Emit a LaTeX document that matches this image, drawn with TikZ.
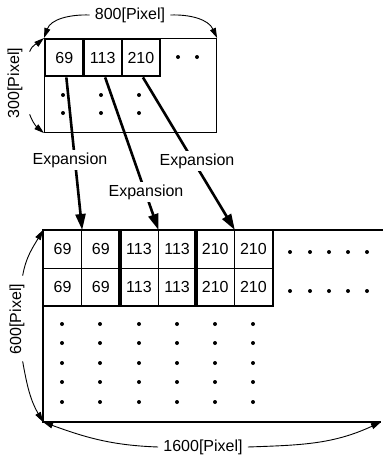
\documentclass[tikz,border=0pt]{standalone}
\usepackage{fontspec}
\setmainfont{Liberation Sans}
\usetikzlibrary{arrows.meta}
\begin{document}
\begin{tikzpicture}[x=1pt,y=-1pt,
  font=\fontsize{16}{18}\selectfont,
  frame/.style={draw, line width=1.1pt, inner sep=0pt, anchor=north west},
  cellS/.style={draw, line width=2.4pt, minimum width=38.3pt, minimum height=37pt, inner sep=0pt, anchor=north west},
  cellL/.style={draw, line width=1pt, minimum width=38.17pt, minimum height=37.5pt, inner sep=0pt, anchor=north west},
  pair/.style={line width=2.4pt},
  expand/.style={line width=2.6pt, -{Triangle[length=16pt,width=10pt]}},
  explabel/.style={fill=white, inner sep=3pt},
  dim/.style={line width=0.9pt, -{Triangle[length=10pt,width=6pt]}},
  dimtext/.style={inner sep=5pt},
  vdimtext/.style={inner sep=2pt, rotate=90},
  pt/.style={radius=2pt}
]
\fill[white] (0,0) rectangle (383,459);
\useasboundingbox (0,0) rectangle (383,459);

% small image (800 x 300)
\node[frame, minimum width=172pt, minimum height=94pt] (small) at (44,38) {};
\node[cellS] (s1) at (44,38) {69};
\node[cellS] (s2) at (82.3,38) {113};
\node[cellS] (s3) at (120.6,38) {210};
\foreach \x in {178,197} \fill (\x,57) circle[pt];
\foreach \x in {63,101,139} \foreach \y in {95,113} \fill (\x,\y) circle[pt];

% large image (1600 x 600), open on the right
\coordinate (bigNW) at (43,230);
\coordinate (bigNE) at (383,230);
\coordinate (bigSW) at (43,422);
\coordinate (bigSE) at (381,422);
\draw[line width=1.1pt] (bigNE) -- (bigNW) -- (bigSW) -- (bigSE);
\foreach \v [count=\c] in {69,69,113,113,210,210} {
  \foreach \r in {1,2} {
    \node[cellL] (L\r\c) at ({43+(\c-1)*38.17},{230+(\r-1)*37.5}) {\v};
  }
}
\draw[pair] (L11.north west) rectangle (L22.south east);
\draw[pair] (L13.north west) rectangle (L24.south east);
\draw[pair] (L15.north west) rectangle (L26.south east);
\foreach \x in {290,310,329,348,367} \foreach \y in {252,291} \fill (\x,\y) circle[pt];
\foreach \x in {62,100,139,177,215,253} \foreach \y in {324,343,363,382,402} \fill (\x,\y) circle[pt];

% expansion arrows
\draw[expand] ([xshift=2pt]s1.south) -- (L11.north east);
\draw[expand] ([xshift=2.5pt]s2.south) -- (L13.north east);
\draw[expand] ([xshift=2pt]s3.south) -- (L15.north east);
\node[explabel] (e1) at (70,160) {Expansion};
\node[explabel] (e2) at (146,192) {Expansion};
\node[explabel] (e3) at (197,161) {Expansion};

% dimension labels
\node[dimtext] (t800) at (130,15) {800[Pixel]};
\draw[dim] (t800.west) to[out=178,in=70] (small.north west);
\draw[dim] (t800.east) to[out=2,in=115] (small.north east);
\node[vdimtext] (t300) at (15,83) {300[Pixel]};
\draw[dim] ([shift={(5,6)}]t300.south east) to[out=70,in=220] (small.north west);
\draw[dim] ([shift={(5,-6)}]t300.south west) to[out=-70,in=140] (small.south west);
\node[vdimtext] (t600) at (17,319) {600[Pixel]};
\draw[dim] ([shift={(-4,-6)}]t600.south east) to[out=80,in=240] (bigNW);
\draw[dim] ([shift={(-4,5)}]t600.south west) to[out=-80,in=120] (bigSW);
\node[dimtext] (t1600) at (203,447) {1600[Pixel]};
\draw[dim] (t1600.west) to[out=178,in=-20] (bigSW);
\draw[dim] (t1600.east) to[out=2,in=205] (bigSE);
\end{tikzpicture}
\end{document}
